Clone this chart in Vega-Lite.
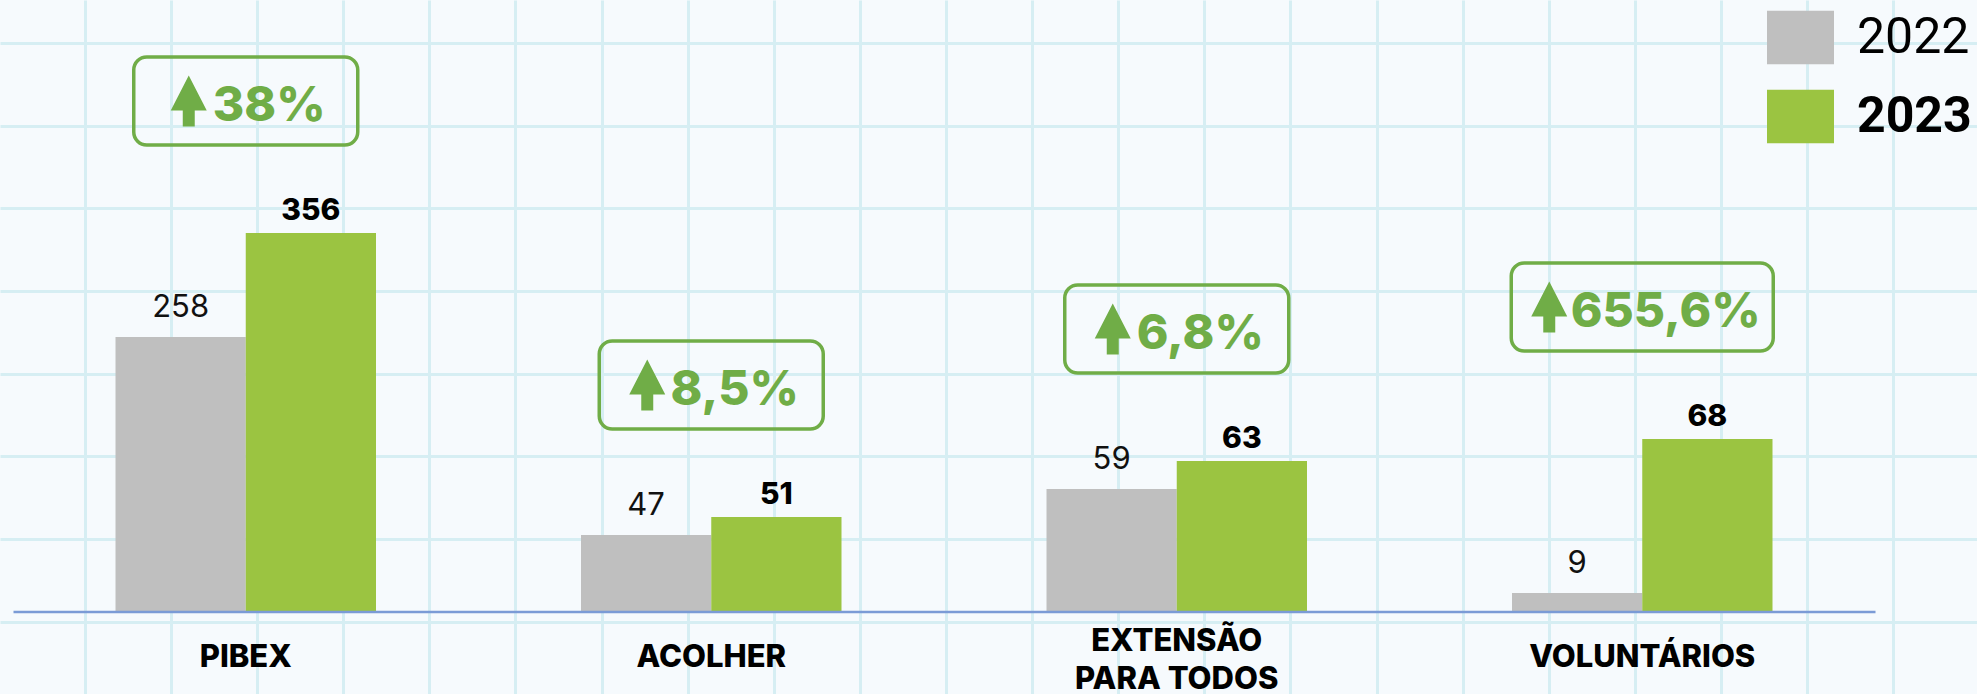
{
  "$schema": "https://vega.github.io/schema/vega-lite/v6.json",
  "width": 1977,
  "height": 694,
  "padding": 0,
  "autosize": {"type": "fit", "contains": "padding"},
  "config": {"background": "#F6FAFD", "view": {"stroke": null}, "font": "Inter"},
  "datasets": {
    "bars": [
      {"cat": "PIBEX", "year": "2022", "value": 258},
      {"cat": "PIBEX", "year": "2023", "value": 356},
      {"cat": "ACOLHER", "year": "2022", "value": 47},
      {"cat": "ACOLHER", "year": "2023", "value": 51},
      {"cat": "EXTENSÃO\nPARA TODOS", "year": "2022", "value": 59},
      {"cat": "EXTENSÃO\nPARA TODOS", "year": "2023", "value": 63},
      {"cat": "VOLUNTÁRIOS", "year": "2022", "value": 9},
      {"cat": "VOLUNTÁRIOS", "year": "2023", "value": 68}
    ],
    "badges": [
      {"cat": "PIBEX", "value": 356, "pct": "38%"},
      {"cat": "ACOLHER", "value": 51, "pct": "8,5%"},
      {"cat": "EXTENSÃO\nPARA TODOS", "value": 63, "pct": "6,8%"},
      {"cat": "VOLUNTÁRIOS", "value": 68, "pct": "655,6%"}
    ]
  },
  "resolve": {"scale": {"x": "independent", "y": "independent"}},
  "layer": [
    {
      "data": {"values": [{}]},
      "mark": {"type": "point", "opacity": 0},
      "encoding": {
        "x": {
          "datum": 0, "type": "quantitative",
          "scale": {"domain": [-0.987, 21.974], "nice": false, "zero": false},
          "axis": {"values": [0,1,2,3,4,5,6,7,8,9,10,11,12,13,14,15,16,17,18,19,20,21], "grid": true, "gridColor": "#D6EEF3", "gridWidth": 3, "gridOpacity": 1, "labels": false, "ticks": false, "domain": false, "title": null, "minExtent": 0, "maxExtent": 0, "orient": "top"}
        },
        "y": {
          "datum": 0, "type": "quantitative",
          "scale": {"domain": [-0.5203, 7.877], "nice": false, "zero": false, "reverse": true},
          "axis": {"values": [0,1,2,3,4,5,6,7], "grid": true, "gridColor": "#D6EEF3", "gridWidth": 3, "gridOpacity": 1, "labels": false, "ticks": false, "domain": false, "title": null, "minExtent": 0, "maxExtent": 0, "orient": "left"}
        }
      }
    },
    {
      "encoding": {
        "x": {
          "field": "cat", "type": "nominal",
          "scale": {"domain": ["PIBEX", "ACOLHER", "EXTENSÃO\nPARA TODOS", "VOLUNTÁRIOS"], "range": [13, 1875], "paddingInner": 0, "paddingOuter": 0},
          "axis": {"orient": "bottom", "labels": false, "ticks": false, "grid": false, "domain": true, "domainColor": "#7B9BD6", "domainWidth": 2.5, "domainOpacity": 1, "offset": -82.5, "title": null, "minExtent": 0, "maxExtent": 0, "zindex": 1}
        },
        "y": {
          "field": "value", "type": "quantitative",
          "scale": {"domain": [0, 9, 47, 51, 59, 63, 68, 258, 356], "range": [611.5, 593, 535, 517, 489, 461, 439, 337, 233], "nice": false, "zero": false},
          "axis": null
        }
      },
      "layer": [
        {
          "data": {"name": "bars"},
          "mark": {"type": "bar"},
          "encoding": {
            "xOffset": {"field": "year", "type": "nominal", "scale": {"paddingInner": 0, "paddingOuter": 0.787}},
            "color": {
              "field": "year", "type": "nominal",
              "scale": {"domain": ["2022", "2023"], "range": ["#BFBFBF", "#9BC441"]},
              "legend": {
                "title": null, "orient": "none", "legendX": 1767, "legendY": 4, "direction": "vertical",
                "symbolType": "M-1,-0.8L1,-0.8L1,0.8L-1,0.8Z", "symbolSize": 4489, "symbolStrokeWidth": 0, "symbolOpacity": 1,
                "labelFontSize": 50, "labelFont": "Roboto", "labelColor": "#000000", "labelOffset": 23, "rowPadding": 18, "padding": 0, "offset": 0,
                "encode": {
                  "symbols": {
                    "enter": {"fill": {"signal": "datum.value === '2022' ? '#A6A6A6' : '#9BC441'"}},
                    "update": {"fill": {"signal": "datum.value === '2022' ? '#A6A6A6' : '#9BC441'"}}
                  },
                  "labels": {"update": {"fontWeight": {"signal": "datum.label === '2023' ? 'bold' : 'normal'"}}}
                }
              }
            }
          }
        },
        {
          "data": {"name": "bars"},
          "transform": [{"filter": "datum.year === '2022'"}],
          "mark": {"type": "text", "dy": -20, "fontSize": 31, "font": "Inter", "fontWeight": "normal", "color": "#111111", "baseline": "alphabetic", "align": "center"},
          "encoding": {
            "xOffset": {"field": "year", "type": "nominal", "scale": {"paddingInner": 0, "paddingOuter": 0.787}},
            "text": {"field": "value", "type": "quantitative"}
          }
        },
        {
          "data": {"name": "bars"},
          "transform": [{"filter": "datum.year === '2023'"}],
          "mark": {"type": "text", "dy": -13, "fontSize": 30, "font": "Inter", "fontWeight": 800, "color": "#000000", "baseline": "alphabetic", "align": "center"},
          "encoding": {
            "xOffset": {"field": "year", "type": "nominal", "scale": {"paddingInner": 0, "paddingOuter": 0.787}},
            "text": {"field": "value", "type": "quantitative"}
          }
        },
        {
          "data": {"name": "badges"},
          "mark": {"type": "bar", "fill": "transparent", "stroke": "#70AD47", "strokeWidth": 3.5, "cornerRadius": 13, "yOffset": -88, "y2Offset": -176},
          "encoding": {
            "y2": {"field": "value"},
            "size": {"condition": {"test": "length(datum.pct) > 5", "value": 262}, "value": 224}
          }
        },
        {
          "data": {"name": "badges"},
          "mark": {
            "type": "point", "shape": "M0,-1L0.706,0.373L0.235,0.373L0.235,1L-0.235,1L-0.235,0.373L-0.706,0.373Z",
            "size": 2601, "filled": true, "fill": "#70AD47", "opacity": 1, "strokeWidth": 0, "yOffset": -132,
            "xOffset": {"expr": "-5.5 - (29*(length(datum.pct) - 1 - (indexof(datum.pct, ',') >= 0 ? 1 : 0)) + (indexof(datum.pct, ',') >= 0 ? 14 : 0) + 45)/2"}
          }
        },
        {
          "data": {"name": "badges"},
          "mark": {"type": "text", "dx": 23.5, "dy": -112, "fontSize": 48, "font": "Inter", "fontWeight": 800, "color": "#70AD47", "baseline": "alphabetic", "align": "center"},
          "encoding": {"text": {"field": "pct"}}
        },
        {
          "data": {"name": "badges"},
          "mark": {"type": "text", "dy": {"expr": "indexof(datum.cat, '\\n') >= 0 ? 30 : 46"}, "fontSize": 31, "font": "Inter", "fontWeight": 800, "color": "#000000", "baseline": "middle", "align": "center", "lineBreak": "\n", "lineHeight": 38, "clip": true},
          "encoding": {
            "y": {"datum": 0},
            "text": {"field": "cat"}
          }
        }
      ]
    }
  ]
}
